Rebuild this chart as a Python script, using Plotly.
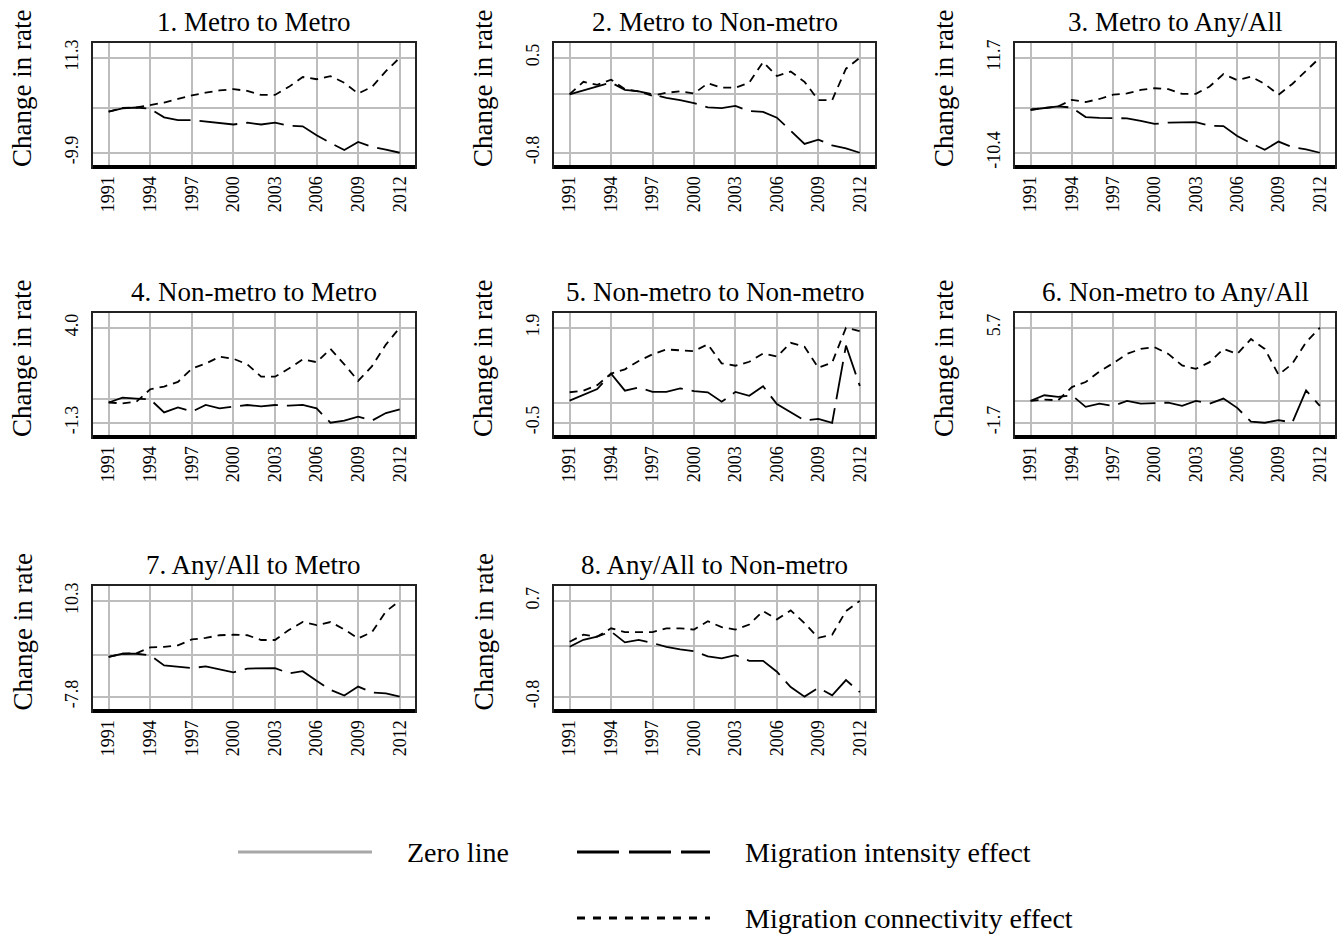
import plotly.graph_objects as go

W, H = 1337, 938
FONT = "Liberation Serif, Times New Roman, serif"

years = list(range(1991, 2013))
year_ticks = [1991, 1994, 1997, 2000, 2003, 2006, 2009, 2012]

titles = [
    "1. Metro to Metro", "2. Metro to Non-metro", "3. Metro to Any/All",
    "4. Non-metro to Metro", "5. Non-metro to Non-metro", "6. Non-metro to Any/All",
    "7. Any/All to Metro", "8. Any/All to Non-metro",
]

# Migration intensity effect (long dash)
p1_int = [-0.7, 0.0, 0.2, -0.1, -2.0, -2.6, -2.6, -2.9, -3.2, -3.6, -3.2, -3.6, -3.2, -3.9, -4.0, -6.0, -7.7, -9.3, -7.5, -8.6, -9.2, -9.9]
p2_int = [0.0, 0.05, 0.11, 0.16, 0.06, 0.04, 0.0, -0.05, -0.08, -0.12, -0.18, -0.19, -0.16, -0.23, -0.24, -0.32, -0.50, -0.68, -0.62, -0.70, -0.74, -0.8]
p3_int = [-0.4, 0.0, 0.4, 0.1, -2.1, -2.3, -2.3, -2.4, -3.0, -3.7, -3.4, -3.4, -3.3, -4.1, -4.2, -6.5, -8.2, -9.7, -7.8, -9.1, -9.6, -10.4]
p4_int = [-0.17, 0.1, 0.05, 0.0, -0.72, -0.44, -0.68, -0.31, -0.5, -0.41, -0.31, -0.39, -0.31, -0.35, -0.3, -0.5, -1.3, -1.18, -0.96, -1.18, -0.76, -0.55]
p5_int = [0.06, 0.2, 0.35, 0.74, 0.31, 0.39, 0.28, 0.28, 0.37, 0.3, 0.27, 0.03, 0.28, 0.18, 0.42, -0.03, -0.23, -0.44, -0.4, -0.5, 1.45, 0.43]
p6_int = [0.0, 0.44, 0.31, 0.44, -0.46, -0.21, -0.39, 0.0, -0.21, -0.15, -0.13, -0.39, 0.0, -0.21, 0.18, -0.54, -1.62, -1.7, -1.5, -1.68, 0.82, -0.39]
p7_int = [-0.3, 0.3, 0.3, 0.0, -1.9, -2.1, -2.4, -2.1, -2.7, -3.2, -2.5, -2.4, -2.4, -3.4, -3.0, -4.8, -6.5, -7.6, -5.9, -7.0, -7.2, -7.8]
p8_int = [-0.02, 0.09, 0.14, 0.22, 0.05, 0.09, 0.04, -0.02, -0.06, -0.09, -0.17, -0.2, -0.15, -0.24, -0.24, -0.41, -0.65, -0.8, -0.66, -0.78, -0.54, -0.73]

# Migration connectivity effect (short dash)
p1_con = [-0.7, 0.1, 0.2, 0.8, 1.3, 2.1, 2.9, 3.5, 4.0, 4.3, 3.9, 3.0, 3.0, 4.8, 7.0, 6.5, 7.2, 5.7, 3.3, 4.8, 8.3, 11.3]
p2_con = [0.0, 0.17, 0.13, 0.2, 0.07, 0.04, -0.02, 0.02, 0.04, 0.01, 0.15, 0.09, 0.09, 0.16, 0.44, 0.25, 0.31, 0.17, -0.08, -0.08, 0.35, 0.5]
p3_con = [-0.4, 0.0, 0.4, 1.9, 1.4, 2.1, 3.1, 3.4, 4.2, 4.6, 4.4, 3.3, 3.3, 5.0, 7.9, 6.5, 7.3, 5.6, 3.1, 5.6, 8.6, 11.7]
p4_con = [-0.17, -0.22, -0.13, 0.57, 0.72, 0.98, 1.72, 2.0, 2.38, 2.27, 1.96, 1.27, 1.27, 1.72, 2.23, 2.08, 2.82, 1.96, 1.03, 1.86, 3.06, 4.0]
p5_con = [0.27, 0.31, 0.45, 0.74, 0.85, 1.06, 1.23, 1.35, 1.33, 1.31, 1.48, 1.0, 0.94, 1.04, 1.25, 1.17, 1.52, 1.42, 0.89, 1.02, 1.9, 1.81]
p6_con = [0.0, 0.1, 0.05, 1.08, 1.47, 2.29, 2.94, 3.66, 4.05, 4.18, 3.66, 2.76, 2.5, 3.02, 4.05, 3.66, 4.82, 4.05, 2.04, 2.89, 4.56, 5.7]
p7_con = [-0.3, 0.3, 0.4, 1.5, 1.6, 1.9, 3.0, 3.3, 3.8, 3.9, 3.8, 2.9, 2.9, 4.8, 6.3, 5.7, 6.3, 4.9, 3.2, 4.4, 8.3, 10.3]
p8_con = [0.06, 0.17, 0.14, 0.27, 0.21, 0.21, 0.21, 0.27, 0.27, 0.25, 0.38, 0.29, 0.25, 0.33, 0.54, 0.41, 0.55, 0.35, 0.12, 0.17, 0.54, 0.7]

y_tick_vals = [(-9.9, 11.3), (-0.8, 0.5), (-10.4, 11.7), (-1.3, 4.0),
               (-0.5, 1.9), (-1.7, 5.7), (-7.8, 10.3), (-0.8, 0.7)]
y_tick_text = [("-9.9", "11.3"), ("-0.8", "0.5"), ("-10.4", "11.7"), ("-1.3", "4.0"),
               ("-0.5", "1.9"), ("-1.7", "5.7"), ("-7.8", "10.3"), ("-0.8", "0.7")]

intensity = [p1_int, p2_int, p3_int, p4_int, p5_int, p6_int, p7_int, p8_int]
connectivity = [p1_con, p2_con, p3_con, p4_con, p5_con, p6_con, p7_con, p8_con]

# layout geometry (pixels)
col_x = [(93, 415), (554, 875), (1015, 1335)]
row_y = [(43, 167), (313, 437), (586, 711)]
positions = [(0, 0), (0, 1), (0, 2), (1, 0), (1, 1), (1, 2), (2, 0), (2, 1)]

GRID = "#bdbdbd"
INT_DASH = "38px,9px"
CON_DASH = "8px,6px"

fig = go.Figure()
annotations = []
shapes = []
layout_axes = {}

for i, (r, c) in enumerate(positions):
    n = i + 1
    xs = "" if n == 1 else str(n)
    x0, x1 = col_x[c]
    y0, y1 = row_y[r]
    xdom = [x0 / W, x1 / W]
    ydom = [1 - y1 / H, 1 - y0 / H]

    fig.add_trace(go.Scatter(x=years, y=intensity[i], mode="lines",
                             line=dict(color="black", width=1.8, dash=INT_DASH),
                             xaxis="x" + xs, yaxis="y" + xs, showlegend=False,
                             name="Migration intensity effect"))
    fig.add_trace(go.Scatter(x=years, y=connectivity[i], mode="lines",
                             line=dict(color="black", width=1.8, dash=CON_DASH),
                             xaxis="x" + xs, yaxis="y" + xs, showlegend=False,
                             name="Migration connectivity effect"))

    lo, hi = y_tick_vals[i]
    d = hi - lo
    layout_axes["xaxis" + xs] = dict(
        domain=xdom, anchor="y" + xs, range=[1989.87, 2013.1],
        tickvals=year_ticks, tickangle=-90, ticks="",
        tickfont=dict(family=FONT, size=18, color="black"),
        showgrid=True, gridcolor=GRID, gridwidth=2,
        showline=True, linecolor="#222222", linewidth=2, mirror=True,
        zeroline=False, automargin=False, ticklabelstandoff=0,
    )
    layout_axes["yaxis" + xs] = dict(
        domain=ydom, anchor="x" + xs, range=[lo - 0.15 * d, hi + 0.155 * d],
        tickvals=[lo, hi], ticktext=list(y_tick_text[i]), tickangle=-90, ticks="",
        tickfont=dict(family=FONT, size=18, color="black"),
        showgrid=True, gridcolor=GRID, gridwidth=2,
        zeroline=True, zerolinecolor=GRID, zerolinewidth=2,
        showline=True, linecolor="#222222", linewidth=2, mirror=True,
        automargin=False, ticklabelstandoff=6,
    )
    # thicker bottom border
    shapes.append(dict(type="line", xref="x" + xs + " domain", yref="y" + xs + " domain",
                       x0=0, x1=1, y0=0, y1=0, line=dict(color="black", width=4)))
    # panel title
    annotations.append(dict(text=titles[i], xref="paper", yref="paper",
                            x=(x0 + x1) / 2 / W, y=1 - y0 / H, yshift=4,
                            xanchor="center", yanchor="bottom", showarrow=False,
                            font=dict(family=FONT, size=27, color="black")))
    # y axis title
    annotations.append(dict(text="Change in rate", xref="paper", yref="paper",
                            x=(x0 - 71) / W, y=1 - ((y0 + y1) / 2 - 16) / H,
                            xanchor="center", yanchor="middle", textangle=-90,
                            showarrow=False,
                            font=dict(family=FONT, size=27, color="black")))

# legend (drawn manually)
leg_items = [
    ("Zero line", 238, 372, 852, 405, "#a8a8a8", "solid"),
    ("Migration intensity effect", 577, 710, 852, 743, "black", "42px,10px"),
    ("Migration connectivity effect", 577, 710, 918, 743, "black", "8px,8px"),
]
for label, lx0, lx1, ly, tx, col, dash in leg_items:
    shapes.append(dict(type="line", xref="paper", yref="paper",
                       x0=lx0 / W, x1=lx1 / W, y0=1 - ly / H, y1=1 - ly / H,
                       line=dict(color=col, width=3, dash=dash)))
    annotations.append(dict(text=label, xref="paper", yref="paper",
                            x=tx / W, y=1 - ly / H, xanchor="left", yanchor="middle",
                            showarrow=False,
                            font=dict(family=FONT, size=28, color="black")))

fig.update_layout(
    width=W, height=H,
    margin=dict(l=0, r=0, t=0, b=0),
    paper_bgcolor="white", plot_bgcolor="white",
    showlegend=False,
    annotations=annotations, shapes=shapes,
    **layout_axes,
)

fig.write_html("out.html")
